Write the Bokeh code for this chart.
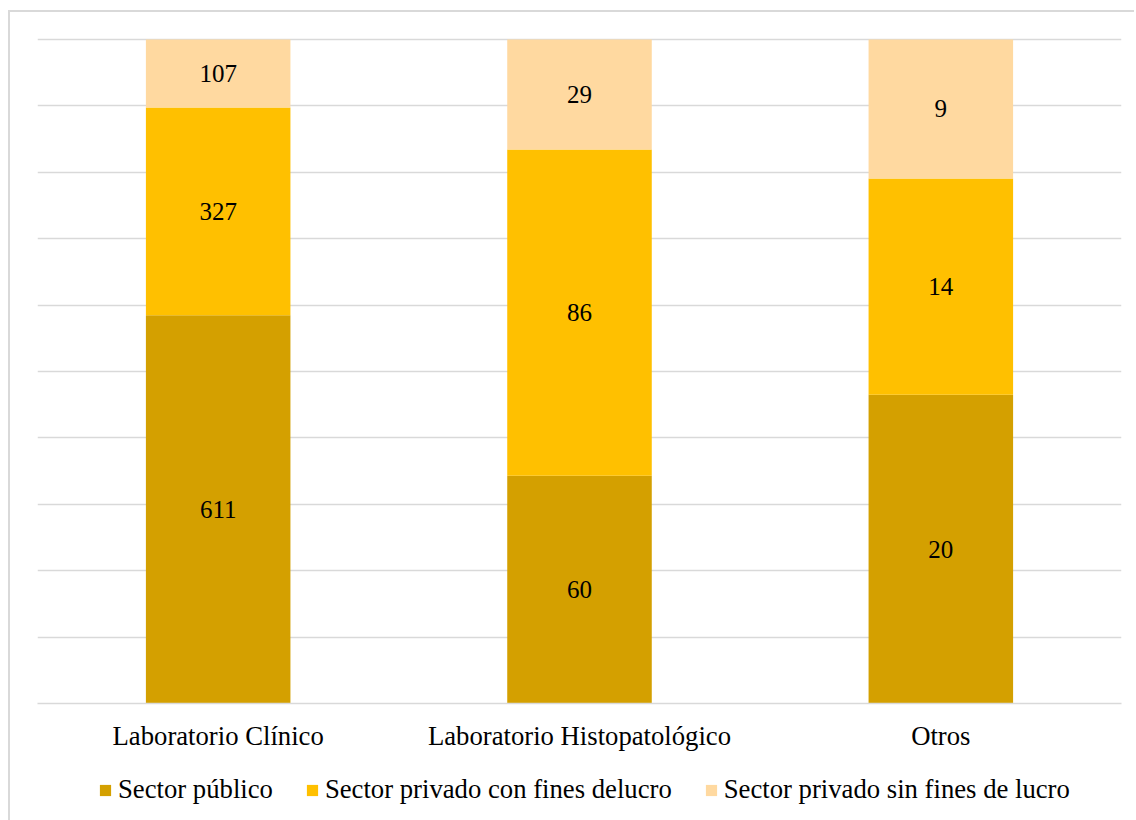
from bokeh.plotting import figure
from bokeh.layouts import column
from bokeh.models import ColumnDataSource, FactorRange, FixedTicker, Legend, LegendItem
from bokeh.core.properties import value
from bokeh.embed import file_html
from bokeh.resources import INLINE

categories = ["Laboratorio Clínico", "Laboratorio Histopatológico", "Otros"]
series = ["Sector público", "Sector privado con fines delucro", "Sector privado sin fines de lucro"]
publico = [611, 60, 20]
privado_lucro = [327, 86, 14]
privado_sin_lucro = [107, 29, 9]
colors = ["#D4A000", "#FFC000", "#FFD9A0"]

totals = [a + b + c for a, b, c in zip(publico, privado_lucro, privado_sin_lucro)]
keys = ["s0", "s1", "s2"]
raw = [publico, privado_lucro, privado_sin_lucro]
data = {"cat": categories}
for k, vals in zip(keys, raw):
    data[k] = [v / t for v, t in zip(vals, totals)]
source = ColumnDataSource(data)

SERIF = "Liberation Serif"
BORDER = "2px solid #d9d9d9"

p = figure(x_range=FactorRange(*categories, range_padding=0), y_range=(0, 1.003),
           frame_width=1082, frame_height=664, output_backend="svg", toolbar_location=None,
           min_border_left=27, min_border_right=15, min_border_top=25, min_border_bottom=45)
p.outline_line_color = None
p.margin = (10, 0, 0, 8)
p.styles = {"border-left": BORDER, "border-top": BORDER}

renderers = p.vbar_stack(keys, x="cat", width=0.4, color=colors, source=source, line_color=None)

# value labels
lx, ly, lt = [], [], []
for i, c in enumerate(categories):
    base = 0.0
    for vals in raw:
        frac = vals[i] / totals[i]
        lx.append(c)
        ly.append(base + frac / 2)
        lt.append(str(vals[i]))
        base += frac
p.text(x=lx, y=ly, text=lt, text_align="center", text_baseline="middle",
       text_font=value(SERIF), text_font_size="25px", text_color="#000000")

p.yaxis.visible = False
p.ygrid.ticker = FixedTicker(ticks=[i / 10 for i in range(11)])
p.ygrid.grid_line_color = "#d9d9d9"
p.ygrid.grid_line_width = 1.5
p.xgrid.visible = False

p.xaxis.axis_line_color = "#d9d9d9"
p.xaxis.axis_line_width = 1.5
p.xaxis.major_tick_line_color = None
p.xaxis.minor_tick_line_color = None
p.xaxis.major_label_text_font = SERIF
p.xaxis.major_label_text_font_size = "26.7px"
p.xaxis.major_label_text_color = "#000000"
p.xaxis.major_label_standoff = 11

# legend strip (stacked bars of the same data lie outside its visible range;
# only their legend swatches show)
q = figure(frame_width=1126, frame_height=70, output_backend="svg", toolbar_location=None,
           x_range=FactorRange(*categories), y_range=(2, 3),
           min_border_left=0, min_border_right=0, min_border_top=0, min_border_bottom=0)
q.margin = (0, 0, 0, 8)
q.styles = {"border-left": BORDER}
q.outline_line_color = None
q.xaxis.visible = False
q.yaxis.visible = False
q.xgrid.visible = False
q.ygrid.visible = False
swatches = q.vbar_stack(keys, x="cat", width=0.4, color=colors, source=source, line_color=None)

legend = Legend(items=[LegendItem(label=s, renderers=[r]) for s, r in zip(series, swatches)],
                orientation="horizontal", location=(88, 16),
                label_text_font=SERIF, label_text_font_size="26.7px", label_text_color="#000000",
                glyph_width=14, glyph_height=14, spacing=32, label_standoff=6,
                border_line_alpha=0, background_fill_alpha=0, padding=0, margin=0)
q.add_layout(legend, "center")

layout = column(p, q, spacing=0)
open("out.html", "w").write(file_html(layout, INLINE))
